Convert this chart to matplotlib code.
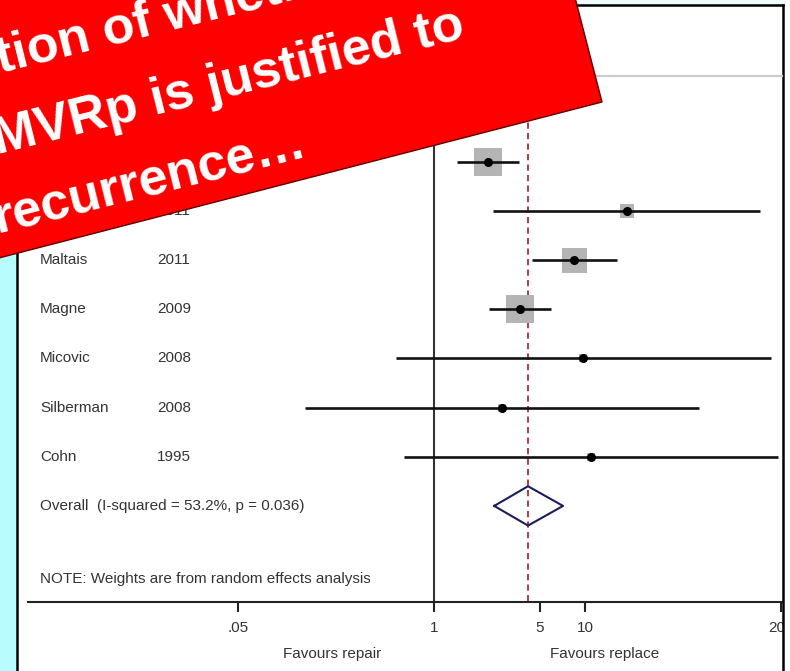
import numpy
import matplotlib
matplotlib.use('Agg')
from matplotlib import pyplot
from matplotlib.patches import Polygon, Rectangle
from matplotlib.lines import Line2D

# study rows, top to bottom (odds ratios, replace vs repair)
STUDIES = ['', '', 'Maltais', 'Magne', 'Micovic', 'Silberman', 'Cohn']
YEARS = ['', '2011', '2011', '2009', '2008', '2008', '1995']
ESTIMATES = [2.27, 19.1, 8.48, 3.71, 9.72, 2.82, 11.0]
CI_LOW = [1.42, 2.45, 4.46, 2.31, 0.557, 0.138, 0.629]
CI_HIGH = [3.65, 146.0, 16.4, 5.96, 173.0, 57.3, 192.0]
WEIGHTS = [29.2, 6.8, 25.0, 29.2, 3.2, 3.2, 3.2]

OVERALL = 4.19
OVERALL_LOW = 2.50
OVERALL_HIGH = 7.16
OVERALL_LABEL = 'Overall  (I-squared = 53.2%, p = 0.036)'
NOTE = 'NOTE: Weights are from random effects analysis'

XTICKS = [0.05, 1, 5, 10, 200]
XTICKLABELS = ['.05', '1', '5', '10', '200']
LEFT_LABEL = 'Favours repair'
RIGHT_LABEL = 'Favours replace'

BANNER_LINES = ['tion of whether', 'MVRp is justified to', 'recurrence\u2026']

W, H = 790, 671
TEXTCOLOR = '#333333'

pyplot.rcParams['font.family'] = ['Liberation Sans', 'DejaVu Sans']


def fx(x):
    return x / W


def fy(y):
    return 1 - y / H


fig = pyplot.figure(figsize=(W / 100, H / 100), dpi=100, facecolor='white')

# slide background: cyan strip on the left, pale band on top
fig.patches.append(Rectangle((0, 0), fx(17), 1, transform=fig.transFigure,
                             facecolor='#b8fcff', edgecolor='none', zorder=0))
fig.patches.append(Rectangle((fx(17), fy(5)), fx(766), 1 - fy(5),
                             transform=fig.transFigure, facecolor='#effcfc',
                             edgecolor='none', zorder=0))
# the panel clips whatever runs past its right edge
fig.patches.append(Rectangle((fx(783), 0), 1 - fx(783), 1,
                             transform=fig.transFigure, facecolor='white',
                             edgecolor='none', zorder=1.5))

# panel frame
for xs, ys in [([17, 17], [5, H]), ([17, 783], [5, 5]), ([783, 783], [5, H])]:
    fig.lines.append(Line2D([fx(v) for v in xs], [fy(v) for v in ys],
                            transform=fig.transFigure, color='black',
                            linewidth=1.8, zorder=2))
# header separator
fig.lines.append(Line2D([fx(18), fx(782)], [fy(76), fy(76)],
                        transform=fig.transFigure, color='#cccccc',
                        linewidth=1.6, zorder=2))

ax = fig.add_axes([fx(28), fy(602), fx(755), (602 - 76) / H])
ax.set_xscale('log')
ax.set_xlim(0.002, 207)
ax.set_ylim(8.953, -1.738)
ax.patch.set_alpha(0)
for side in ['top', 'left', 'right']:
    ax.spines[side].set_visible(False)
ax.spines['bottom'].set_linewidth(1.5)
ax.spines['bottom'].set_color('#222222')

rows = numpy.arange(len(STUDIES))
overall_row = len(STUDIES)

# null line and overall estimate line
ax.plot([1, 1], [-0.9, 8.953], color='#333333', linewidth=1.5, zorder=2,
        clip_on=False)
ax.plot([OVERALL, OVERALL], [-1.0, 8.953], color='#b03a4a', linewidth=1.4,
        dashes=(3.2, 2.2), zorder=2, clip_on=False)

# weighted boxes, confidence intervals and point estimates
for i in rows:
    ax.plot([ESTIMATES[i]], [i], marker='s', linestyle='none',
            markersize=3.6 * numpy.sqrt(WEIGHTS[i]), color='#b4b4b4',
            markeredgewidth=0, zorder=3)
    ax.plot([CI_LOW[i], CI_HIGH[i]], [i, i], color='#111111', linewidth=1.9,
            solid_capstyle='butt', zorder=4)
    ax.plot([ESTIMATES[i]], [i], marker='o', markersize=5.5, color='black',
            zorder=5)

# pooled estimate diamond
ax.plot([OVERALL_LOW, OVERALL, OVERALL_HIGH, OVERALL, OVERALL_LOW],
        [overall_row, overall_row - 0.4, overall_row, overall_row + 0.4,
         overall_row], color='#1c1c5c', linewidth=1.5, zorder=4)

ax.set_xticks(XTICKS)
ax.set_xticklabels(XTICKLABELS)
ax.minorticks_off()
ax.set_yticks([])
ax.tick_params(axis='x', direction='out', length=7.5, width=1.5,
               color='#222222', pad=6, labelsize=11, labelcolor=TEXTCOLOR)

# study labels
label_tf = ax.get_yaxis_transform()
name_x = (40 - 28) / 755
year_x = (157 - 28) / 755
for i in rows:
    ax.text(name_x, i, STUDIES[i], transform=label_tf,
            ha='left', va='center', fontsize=11, color=TEXTCOLOR)
    ax.text(year_x, i, YEARS[i], transform=label_tf,
            ha='left', va='center', fontsize=11, color=TEXTCOLOR)
ax.text(name_x, overall_row, OVERALL_LABEL, transform=label_tf,
        ha='left', va='center', fontsize=11, color=TEXTCOLOR)
ax.text(name_x, 8.48, NOTE, transform=label_tf,
        ha='left', va='center', fontsize=11, color=TEXTCOLOR)

fig.text(fx(381), fy(654), LEFT_LABEL, ha='right', va='center', fontsize=11,
         color=TEXTCOLOR)
fig.text(fx(550), fy(654), RIGHT_LABEL, ha='left', va='center', fontsize=11,
         color=TEXTCOLOR)

# red callout banner laid over the top-left corner
angle = numpy.radians(14.5)
along = numpy.array([-numpy.cos(angle), numpy.sin(angle)])
up = numpy.array([-numpy.sin(angle), -numpy.cos(angle)])
br = numpy.array([602.0, 102.0])
corners = [br, br + 900 * along, br + 900 * along + 320 * up, br + 320 * up]
fig.patches.append(Polygon([(fx(c[0]), fy(c[1])) for c in corners],
                           closed=True, transform=fig.transFigure,
                           facecolor='#ff0000', edgecolor='#600000',
                           linewidth=1.0, zorder=10))

for (x0, y0), line in zip([(0, 73), (-3, 154), (-3, 234)], BANNER_LINES):
    fig.text(fx(x0), fy(y0), line, rotation=14, rotation_mode='anchor',
             ha='left', va='baseline', fontsize=37.5, fontweight='bold',
             color='white', zorder=11)

fig.savefig('out.png', dpi=100)
